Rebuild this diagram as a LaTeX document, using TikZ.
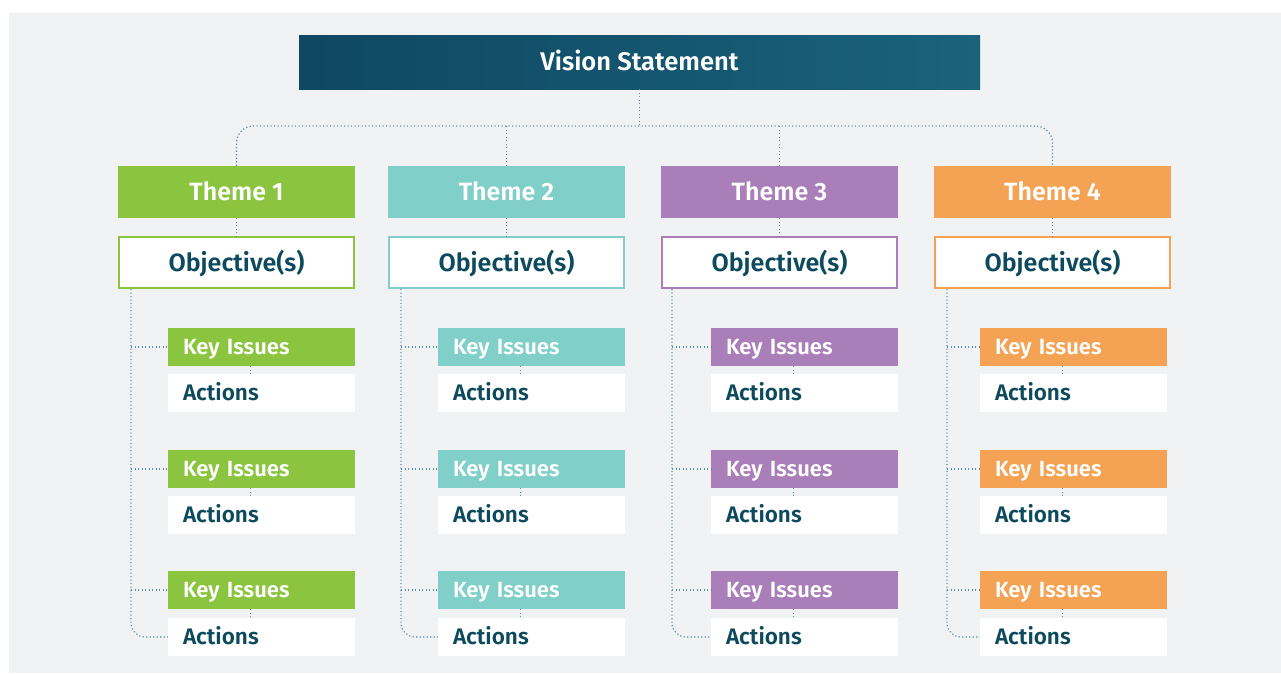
\documentclass[tikz,border=0pt]{standalone}
\usepackage{fontspec}
\setmainfont{Fira Sans}[BoldFont={Fira Sans SemiBold}]
\usepackage{tikz}

\definecolor{backgray}{HTML}{F0F2F4}
\definecolor{visionL}{HTML}{0E4862}
\definecolor{visionR}{HTML}{1B627B}
\definecolor{darktext}{HTML}{0D4A5E}
\definecolor{linkcol}{HTML}{5D8AA0}
\definecolor{themeA}{HTML}{8BC53F}
\definecolor{themeB}{HTML}{80CFC8}
\definecolor{themeC}{HTML}{A97EB9}
\definecolor{themeD}{HTML}{F4A355}

\tikzset{
    vision/.style={text height=17.6pt, text depth=0pt, minimum width=681, minimum height=54, inner sep=0,
                   left color=visionL, right color=visionR, text=white,
                   font=\bfseries\fontsize{25.5}{30}\selectfont},
    theme/.style={text height=17.2pt, text depth=0pt, minimum width=237, minimum height=52, inner sep=0,
                  text=white, font=\bfseries\fontsize{25}{30}\selectfont},
    objbox/.style={text height=17.2pt, text depth=0pt, minimum width=235, minimum height=51, inner sep=0,
                   fill=white, line width=2pt, text=darktext,
                   font=\bfseries\fontsize{25}{30}\selectfont},
    keybox/.style={text height=15.2pt, text depth=0pt, minimum height=38, text width=157,
                   inner xsep=15, inner ysep=0, align=left, text=white,
                   font=\bfseries\fontsize{22}{26}\selectfont},
    actbox/.style={keybox, fill=white, text=darktext, font=\bfseries\fontsize{22.5}{26}\selectfont},
    link/.style={draw=linkcol, line width=1.2pt, dash pattern=on 1.2pt off 2.3pt}
}

\begin{document}
\begin{tikzpicture}[x=1pt,y=-1pt]
    \useasboundingbox (0,0) rectangle (1281,673);
    \fill[backgray] (9,13) rectangle (1281,673);

    % vision and themes
    \node[vision] (vision) at (639.5,62) {Vision Statement};
    \coordinate (bus) at (639.5,126);

    \node[theme,fill=themeA] (theme1) at (236.5,192) {Theme 1};
    \node[theme,fill=themeB] (theme2) at (506.5,192) {Theme 2};
    \node[theme,fill=themeC] (theme3) at (779.5,192) {Theme 3};
    \node[theme,fill=themeD] (theme4) at (1052.5,192) {Theme 4};

    \node[objbox,draw=themeA] (obj1) at (236.5,262.5) {Objective(s)};
    \node[objbox,draw=themeB] (obj2) at (506.5,262.5) {Objective(s)};
    \node[objbox,draw=themeC] (obj3) at (779.5,262.5) {Objective(s)};
    \node[objbox,draw=themeD] (obj4) at (1052.5,262.5) {Objective(s)};

    % key issues and actions
    \node[keybox,fill=themeA] (key11) at (261.5,347) {Key Issues};
    \node[actbox] (act11) at (261.5,393) {Actions};
    \node[keybox,fill=themeA] (key12) at (261.5,469) {Key Issues};
    \node[actbox] (act12) at (261.5,515) {Actions};
    \node[keybox,fill=themeA] (key13) at (261.5,590) {Key Issues};
    \node[actbox] (act13) at (261.5,637) {Actions};

    \node[keybox,fill=themeB] (key21) at (531.5,347) {Key Issues};
    \node[actbox] (act21) at (531.5,393) {Actions};
    \node[keybox,fill=themeB] (key22) at (531.5,469) {Key Issues};
    \node[actbox] (act22) at (531.5,515) {Actions};
    \node[keybox,fill=themeB] (key23) at (531.5,590) {Key Issues};
    \node[actbox] (act23) at (531.5,637) {Actions};

    \node[keybox,fill=themeC] (key31) at (804.5,347) {Key Issues};
    \node[actbox] (act31) at (804.5,393) {Actions};
    \node[keybox,fill=themeC] (key32) at (804.5,469) {Key Issues};
    \node[actbox] (act32) at (804.5,515) {Actions};
    \node[keybox,fill=themeC] (key33) at (804.5,590) {Key Issues};
    \node[actbox] (act33) at (804.5,637) {Actions};

    \node[keybox,fill=themeD] (key41) at (1073.5,347) {Key Issues};
    \node[actbox] (act41) at (1073.5,393) {Actions};
    \node[keybox,fill=themeD] (key42) at (1073.5,469) {Key Issues};
    \node[actbox] (act42) at (1073.5,515) {Actions};
    \node[keybox,fill=themeD] (key43) at (1073.5,590) {Key Issues};
    \node[actbox] (act43) at (1073.5,637) {Actions};

    % spines under the objectives
    \coordinate (sp1) at ([xshift=13pt]obj1.south west);
    \coordinate (sp2) at ([xshift=13pt]obj2.south west);
    \coordinate (sp3) at ([xshift=11pt]obj3.south west);
    \coordinate (sp4) at ([xshift=13pt]obj4.south west);

    \begin{scope}[every path/.style={link}]
        \path (vision.south) edge (bus);
        \draw[rounded corners=17] (theme1.north) |- (bus) -| (theme4.north);
        \draw (theme2.north) -- (theme2.north |- bus);
        \draw (theme3.north) -- (theme3.north |- bus);

        \draw (theme1.south) -- (obj1.north);
        \draw (theme2.south) -- (obj2.north);
        \draw (theme3.south) -- (obj3.north);
        \draw (theme4.south) -- (obj4.north);

        \draw[rounded corners=14] (sp1) |- (act13.west);
        \draw[rounded corners=14] (sp2) |- (act23.west);
        \draw[rounded corners=14] (sp3) |- (act33.west);
        \draw[rounded corners=14] (sp4) |- (act43.west);

        \draw (sp1 |- key11.west) -- (key11.west);
        \draw (sp1 |- key12.west) -- (key12.west);
        \draw (sp1 |- key13.west) -- (key13.west);
        \draw (sp2 |- key21.west) -- (key21.west);
        \draw (sp2 |- key22.west) -- (key22.west);
        \draw (sp2 |- key23.west) -- (key23.west);
        \draw (sp3 |- key31.west) -- (key31.west);
        \draw (sp3 |- key32.west) -- (key32.west);
        \draw (sp3 |- key33.west) -- (key33.west);
        \draw (sp4 |- key41.west) -- (key41.west);
        \draw (sp4 |- key42.west) -- (key42.west);
        \draw (sp4 |- key43.west) -- (key43.west);

        % key issues to actions
        \draw ([xshift=83pt]key11.south west) -- ([xshift=83pt]act11.north west);
        \draw ([xshift=83pt]key12.south west) -- ([xshift=83pt]act12.north west);
        \draw ([xshift=83pt]key13.south west) -- ([xshift=83pt]act13.north west);
        \draw ([xshift=83pt]key21.south west) -- ([xshift=83pt]act21.north west);
        \draw ([xshift=83pt]key22.south west) -- ([xshift=83pt]act22.north west);
        \draw ([xshift=83pt]key23.south west) -- ([xshift=83pt]act23.north west);
        \draw ([xshift=83pt]key31.south west) -- ([xshift=83pt]act31.north west);
        \draw ([xshift=83pt]key32.south west) -- ([xshift=83pt]act32.north west);
        \draw ([xshift=83pt]key33.south west) -- ([xshift=83pt]act33.north west);
        \draw ([xshift=83pt]key41.south west) -- ([xshift=83pt]act41.north west);
        \draw ([xshift=83pt]key42.south west) -- ([xshift=83pt]act42.north west);
        \draw ([xshift=83pt]key43.south west) -- ([xshift=83pt]act43.north west);
    \end{scope}
\end{tikzpicture}
\end{document}
